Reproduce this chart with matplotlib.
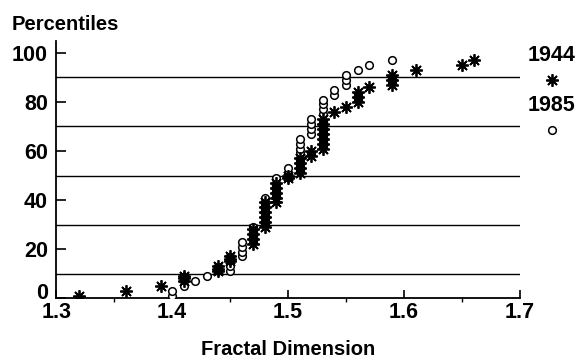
import matplotlib.pyplot as plt
import matplotlib.transforms as mtransforms
from matplotlib.lines import Line2D
from matplotlib.ticker import MultipleLocator

plt.rcParams['font.family'] = 'Liberation Sans'
plt.rcParams['font.weight'] = 'bold'

# 1944 sample (asterisks)
fd_1944 = [1.32, 1.36, 1.39,
           1.41, 1.41, 1.41, 1.44, 1.44, 1.44, 1.45, 1.45, 1.45,
           1.47, 1.47, 1.47, 1.47,
           1.48, 1.48, 1.48, 1.48, 1.48, 1.48,
           1.49, 1.49, 1.49, 1.49, 1.49, 1.50, 1.50,
           1.51, 1.51, 1.51, 1.51, 1.52, 1.52,
           1.53, 1.53, 1.53, 1.53, 1.53, 1.53, 1.53,
           1.54, 1.55, 1.56, 1.56, 1.56, 1.57,
           1.59, 1.59, 1.59, 1.61, 1.65, 1.66]
pct_1944 = [1, 3, 5,
            7, 8, 9, 11, 12, 13, 15, 16, 17,
            22, 24, 26, 28,
            29, 31, 33, 35, 37, 39,
            39, 41, 43, 45, 47, 49, 50,
            51, 53, 55, 57, 58, 60,
            61, 63, 65, 67, 69, 71, 73,
            76, 78, 80, 82, 84, 86,
            87, 89, 91, 93, 95, 97]

# 1985 sample (circles)
fd_1985 = [1.40, 1.40, 1.41, 1.42, 1.43, 1.45, 1.45,
           1.46, 1.46, 1.46, 1.46, 1.47, 1.47, 1.47,
           1.48, 1.48, 1.48, 1.48, 1.48, 1.48,
           1.49, 1.49, 1.49, 1.49, 1.50, 1.50,
           1.51, 1.51, 1.51, 1.51, 1.51, 1.51,
           1.52, 1.52, 1.52, 1.52, 1.53, 1.53, 1.53, 1.53,
           1.54, 1.54, 1.55, 1.55, 1.55, 1.56, 1.57, 1.59]
pct_1985 = [1, 3, 5, 7, 9, 11, 13,
            17, 19, 21, 23, 25, 27, 29,
            31, 33, 35, 37, 39, 41,
            43, 45, 47, 49, 51, 53,
            55, 57, 59, 61, 63, 65,
            67, 69, 71, 73, 75, 77, 79, 81,
            83, 85, 87, 89, 91, 93, 95, 97]

ref_lines = [10, 30, 50, 70, 90]

asterisk = (8, 2, 0)

fig = plt.figure(figsize=(5.79, 3.6), dpi=100)
ax = fig.add_axes([0.097, 0.172, 0.801, 0.715])

for y in ref_lines:
    ax.plot([1.3, 1.7], [y, y], color='black', lw=1.0, zorder=1)

ax.plot(fd_1985, pct_1985, linestyle='none', marker='o', ms=5.5,
        mfc='white', mec='black', mew=1.1, zorder=3)
ax.plot(fd_1944, pct_1944, linestyle='none', marker=asterisk, ms=9,
        color='black', mew=1.3, zorder=4)

ax.set_xlim(1.3, 1.7)
ax.set_ylim(0, 105)
ax.spines['top'].set_visible(False)
ax.spines['right'].set_visible(False)
ax.spines['left'].set_linewidth(1.3)
ax.spines['bottom'].set_linewidth(1.3)
ax.set_xticks([1.3, 1.4, 1.5, 1.6, 1.7])
ax.set_xticklabels(['1.3', '1.4', '1.5', '1.6', '1.7'])
ax.xaxis.set_minor_locator(MultipleLocator(0.05))
ax.set_yticks([0, 20, 40, 60, 80, 100])
ax.tick_params(axis='both', direction='in', labelsize=15.5, width=1.2)
ax.tick_params(axis='x', length=6, pad=3)
ax.tick_params(axis='x', which='minor', length=3, width=1.0)
ax.tick_params(axis='y', length=7, pad=6)

# lift the "0" label a little so it clears "1.3"
zero_label = ax.get_yticklabels()[0]
zero_label.set_transform(zero_label.get_transform() +
                         mtransforms.ScaledTranslation(0, 5 / 72,
                                                       fig.dpi_scale_trans))

fig.text(0.02, 0.933, 'Percentiles', fontsize=14.5, fontweight='bold',
         ha='left', va='center')
fig.text(0.497, 0.028, 'Fractal Dimension', fontsize=14.5, fontweight='bold',
         ha='center', va='center')

# legend on the right
fig.text(0.953, 0.847, '1944', fontsize=15.5, fontweight='bold',
         ha='center', va='center')
fig.add_artist(Line2D([0.953], [0.778], transform=fig.transFigure,
                      marker=asterisk, ms=9, color='black', mew=1.3,
                      linestyle='none'))
fig.text(0.953, 0.706, '1985', fontsize=15.5, fontweight='bold',
         ha='center', va='center')
fig.add_artist(Line2D([0.953], [0.639], transform=fig.transFigure,
                      marker='o', ms=5.5, mfc='white', mec='black', mew=1.1,
                      linestyle='none'))

fig.savefig('out.png', dpi=100)
